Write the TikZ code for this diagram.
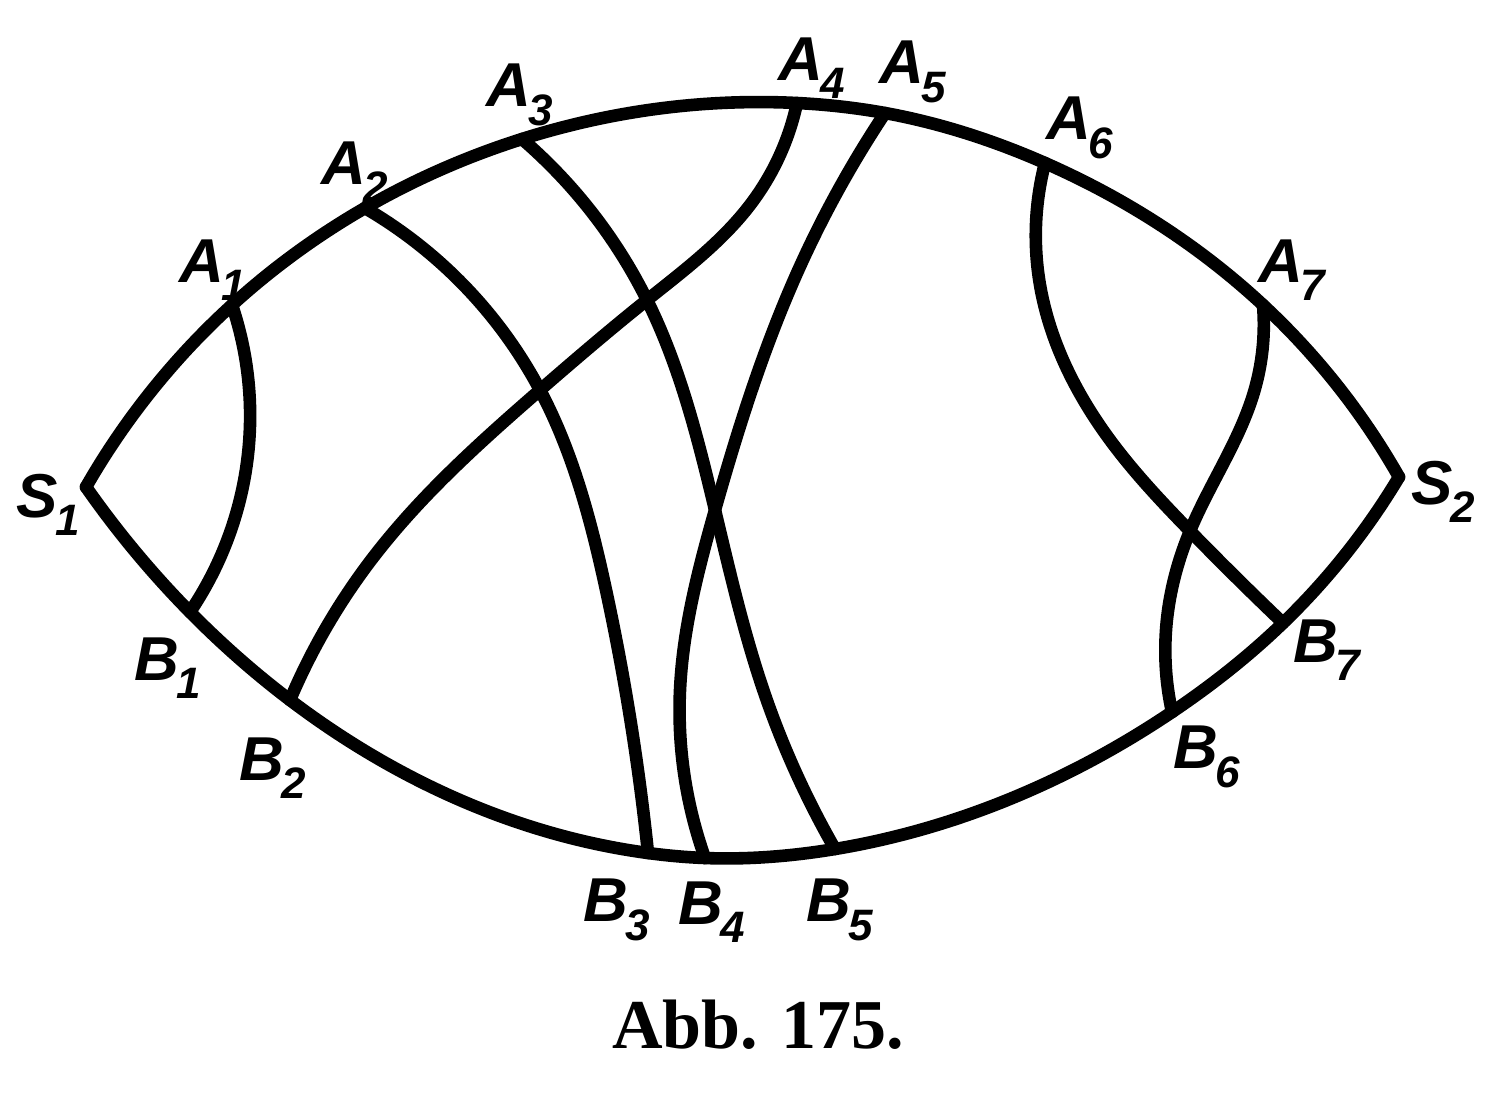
\documentclass[tikz,border=0pt]{standalone}
\usepackage{fontspec}
\setmainfont{Liberation Serif}
\newfontfamily\labfont{Liberation Sans}
\usetikzlibrary{hobby}
\newcommand\lbl[2]{#1\kern-0.04em\raisebox{-0.3em}{\fontsize{22pt}{22pt}\selectfont #2}}
\tikzset{
  edge/.style={line width=6.3pt, line cap=round, line join=round},
  curve/.style={edge, use Hobby shortcut},
  lab/.style={font=\labfont\bfseries\itshape\fontsize{31pt}{31pt}\selectfont, inner sep=0pt},
  captxt/.style={font=\bfseries\fontsize{35pt}{35pt}\selectfont, inner sep=0pt}
}
\begin{document}
\begin{tikzpicture}[x=0.5pt,y=-0.5pt]
\useasboundingbox (0,0) rectangle (1508,1100);
% points
\coordinate (S1) at (86,487);
\coordinate (S2) at (1399,477);
\coordinate (A1) at (232,305);
\coordinate (A2) at (365,208);
\coordinate (A3) at (522,139);
\coordinate (A4) at (797,103);
\coordinate (A5) at (885,113);
\coordinate (A6) at (1045,163);
\coordinate (A7) at (1263,305);
\coordinate (B1) at (190,612);
\coordinate (B2) at (290,700);
\coordinate (B3) at (648,853);
\coordinate (B4) at (705,858);
\coordinate (B5) at (835,849);
\coordinate (B6) at (1172,712);
\coordinate (B7) at (1283,623);
% outer arcs
\draw[curve] (S1) .. (A1) .. (A2) .. (A3) .. (A4) .. (A5) .. (A6) .. (A7) .. (S2);
\draw[curve] (S1) .. (B1) .. (B2) .. (B3) .. (B4) .. (B5) .. (B6) .. (B7) .. (S2);
% inner curves
\draw[curve] (A1) .. (250,425) .. (B1);
\draw[curve] (A2) .. (540,390) .. (606,590) .. (B3);
\draw[curve] (A3) .. (647,300) .. (715,510) .. (765,695) .. (B5);
\draw[curve] (A4) .. (750,205) .. (647,300) .. (540,390) .. (375,555) .. (B2);
\draw[curve] (A5) .. (797,273) .. (715,510) .. (680,690) .. (B4);
\draw[curve] (A6) .. (1040,285) .. (1110,440) .. (1190,531) .. (B7);
\draw[curve] (A7) .. (1254,392) .. (1190,531) .. (1166,630) .. (B6);
% labels
\node[lab] (lA1) at (213,270) {\lbl{A}{1}};
\node[lab] (lA2) at (355,172) {\lbl{A}{2}};
\node[lab] (lA3) at (520,95) {\lbl{A}{3}};
\node[lab] (lA4) at (812,68) {\lbl{A}{4}};
\node[lab] (lA5) at (913,72) {\lbl{A}{5}};
\node[lab] (lA6) at (1080,128) {\lbl{A}{6}};
\node[lab] (lA7) at (1292,270) {\lbl{A}{7}};
\node[lab] (lS1) at (48,505) {\lbl{S}{1}};
\node[lab] (lS2) at (1443,492) {\lbl{S}{2}};
\node[lab] (lB1) at (168,668) {\lbl{B}{1}};
\node[lab] (lB2) at (273,768) {\lbl{B}{2}};
\node[lab] (lB3) at (617,910) {\lbl{B}{3}};
\node[lab] (lB4) at (712,912) {\lbl{B}{4}};
\node[lab] (lB5) at (840,910) {\lbl{B}{5}};
\node[lab] (lB6) at (1207,757) {\lbl{B}{6}};
\node[lab] (lB7) at (1327,650) {\lbl{B}{7}};
\node[captxt] (cap) at (758,1025) {Abb. 175.};
\end{tikzpicture}
\end{document}
